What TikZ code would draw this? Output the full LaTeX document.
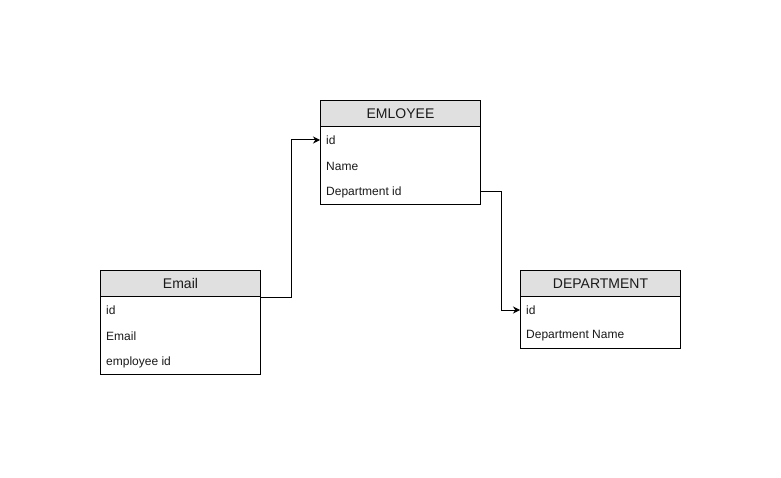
\documentclass[tikz,border=0pt]{standalone}
\usepackage{fontspec}
\setmainfont{Liberation Sans}
\usetikzlibrary{arrows.meta}
\definecolor{hdrfill}{HTML}{E0E0E0}
\definecolor{txt}{HTML}{1A1A1A}
\tikzset{
  tbl/.style={draw=black, line width=1pt, fill=white, anchor=north west, minimum width=160pt, inner sep=0pt},
  hdr/.style={draw=black, line width=1pt, fill=hdrfill, anchor=north west, minimum width=160pt, minimum height=26pt, inner sep=0pt, text=txt, font=\fontsize{14}{16}\selectfont},
  rowtxt/.style={anchor=west, inner sep=0pt, text=txt, font=\fontsize{12}{14}\selectfont},
  conn/.style={draw=black, line width=1pt, -{Stealth[length=7pt,width=7pt]}}
}
\begin{document}
\begin{tikzpicture}[x=1pt,y=-1pt]
\useasboundingbox[fill=white] (0,0) rectangle (781,478);
% EMLOYEE
\node[tbl, minimum height=104pt] (empbox) at (320,100) {};
\node[hdr] (emp) at (320,100) {EMLOYEE};
\node[rowtxt] (empid) at (326,140) {id};
\node[rowtxt] (empname) at (326,166) {Name};
\node[rowtxt] (empdep) at (326,192) {Department id};
% Email
\node[tbl, minimum height=104pt] (mailbox) at (100,270) {};
\node[hdr] (mail) at (100,270) {Email};
\node[rowtxt] (mailid) at (106,310) {id};
\node[rowtxt] (mailmail) at (106,336) {Email};
\node[rowtxt] (mailemp) at (106,362) {employee id};
% DEPARTMENT
\node[tbl, minimum height=78pt] (depbox) at (520,270) {};
\node[hdr] (dep) at (520,270) {DEPARTMENT};
\node[rowtxt] (depid) at (526,310) {id};
\node[rowtxt] (depname) at (526,336) {Department Name};
% connectors
\coordinate (empin) at (empbox.west |- empid.west);
\coordinate (depout) at (empbox.east |- empdep.west);
\coordinate (depin) at (depbox.west |- depid.west);
\draw[conn] (mail.south east) -- ++(30,0) |- (empin);
\draw[conn] (depout) -- ++(20,0) |- (depin);
\end{tikzpicture}
\end{document}
